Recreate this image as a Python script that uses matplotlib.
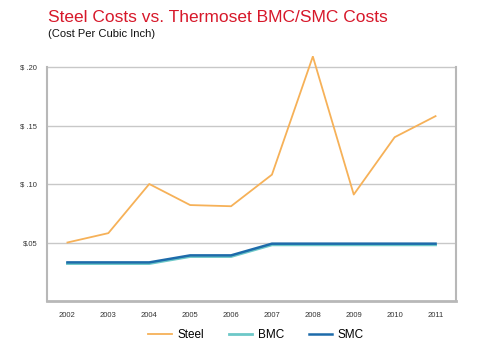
import matplotlib.pyplot as plt
import numpy as np

plt.rcParams['font.family'] = ['Liberation Sans', 'DejaVu Sans']

years = ["2002", "2003", "2004", "2005", "2006", "2007", "2008", "2009", "2010", "2011"]
steel = [0.050, 0.058, 0.100, 0.082, 0.081, 0.108, 0.209, 0.091, 0.140, 0.158]
bmc = [0.032, 0.032, 0.032, 0.038, 0.038, 0.048, 0.048, 0.048, 0.048, 0.048]
smc = [0.033, 0.033, 0.033, 0.039, 0.039, 0.049, 0.049, 0.049, 0.049, 0.049]
yticks = [0.05, 0.10, 0.15, 0.20]
ytick_labels = ["$.05", "$ .10", "$ .15", "$ .20"]

fig = plt.figure(figsize=(4.8, 3.52), dpi=100)
ax = fig.add_axes([47 / 480, 1 - 301 / 352, (456 - 47) / 480, (301 - 56) / 352])

x = np.arange(len(years))
ax.plot(x, steel, color="#F6B158", lw=1.3, label="Steel", zorder=3)
ax.plot(x, bmc, color="#6DC8C8", lw=2.0, label="BMC", zorder=3)
ax.plot(x, smc, color="#1D6BAA", lw=1.8, label="SMC", zorder=4)

ax.set_xlim(-0.5, 9.5)
ax.set_ylim(0, (301 - 56) / 58.5 * 0.05)
ax.set_xticks(x)
ax.set_xticklabels(years, fontsize=5.5, color="#333333")
ax.set_yticks(yticks)
ax.set_yticklabels(ytick_labels, fontsize=5.5, color="#333333")
ax.tick_params(length=0, pad=8)
ax.tick_params(axis="y", pad=7)

# gridlines stop at the right frame
for t in yticks:
    ax.plot([-0.5, 9.5], [t, t], color="#c8c8c8", lw=1.0, zorder=1)

for side in ["left", "right", "bottom"]:
    ax.spines[side].set_color("#b8b8b8")
ax.spines["left"].set_linewidth(1.5)
ax.spines["bottom"].set_linewidth(2.0)
ax.spines["right"].set_linewidth(1.5)
ax.spines["right"].set_bounds(0, 0.20)
ax.spines["left"].set_bounds(0, 0.20)
ax.spines["top"].set_visible(False)

fig.text(48 / 480, 1 - 17 / 352, "Steel Costs vs. Thermoset BMC/SMC Costs",
         color="#D7182A", fontsize=12.5, va="center", ha="left")
fig.text(48 / 480, 1 - 34 / 352, "(Cost Per Cubic Inch)",
         color="#111111", fontsize=8, va="center", ha="left")

fig.legend(loc="center", bbox_to_anchor=(256 / 480, 1 - 335 / 352), ncol=3,
           frameon=False, fontsize=8.5, handlelength=2.0, columnspacing=2.1,
           handletextpad=0.45)

fig.savefig("out.png", dpi=100)
